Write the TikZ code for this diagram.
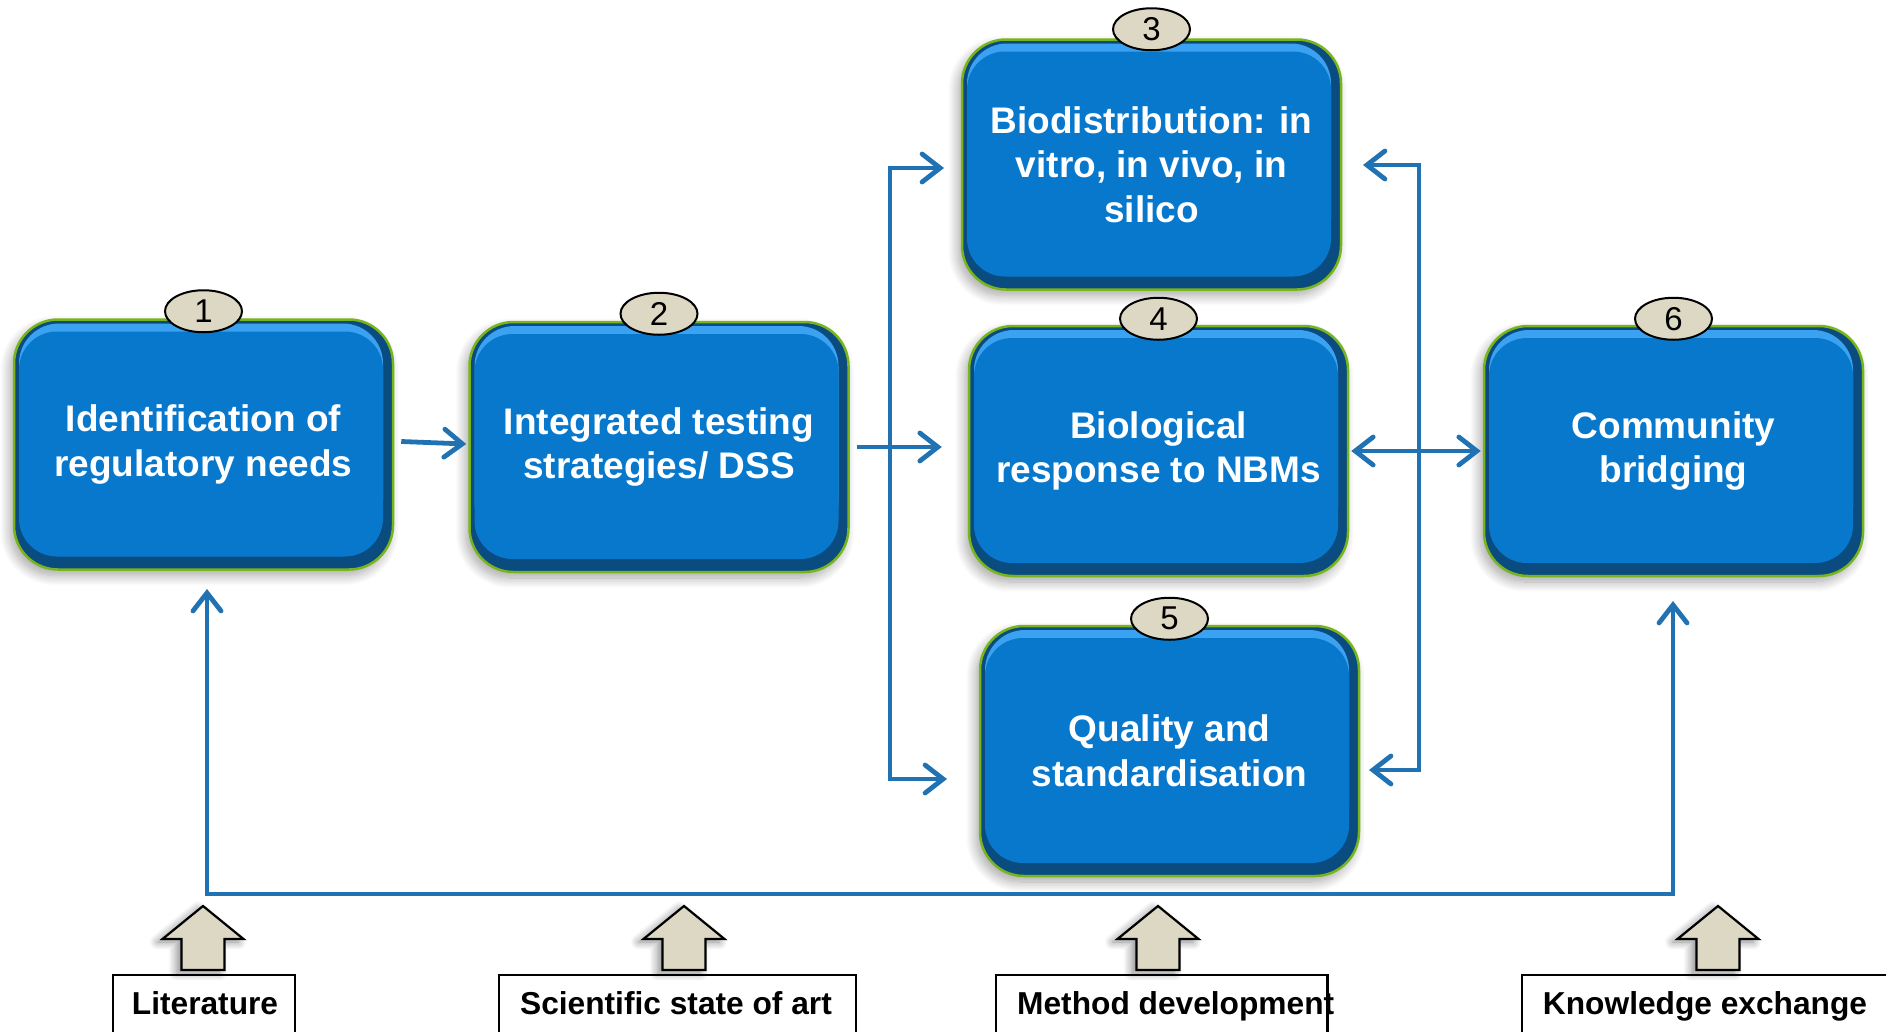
\documentclass[tikz,border=0pt]{standalone}
\usepackage{fontspec}
\setmainfont{Liberation Sans}
\usetikzlibrary{arrows.meta,shapes.geometric,shadows.blur}
\definecolor{bmain}{HTML}{0778CC}
\definecolor{bdark}{HTML}{0A4B80}
\definecolor{bhigh}{HTML}{3AA2F0}
\definecolor{bgreen}{HTML}{78B41C}
\definecolor{connc}{HTML}{2172B2}
\definecolor{beige}{HTML}{DDD8C3}
\tikzset{
  bxout/.style={rectangle, rounded corners=44pt, minimum width=379pt, minimum height=250pt,
    inner sep=0pt, fill=bdark, draw=bgreen, line width=2.5pt,
    blur shadow={shadow blur steps=12, shadow xshift=-4pt, shadow yshift=-6pt, shadow blur radius=10pt, shadow opacity=35}},
  bxhi/.style={rectangle, rounded corners=40pt, minimum width=364pt, minimum height=216pt, inner sep=0pt, fill=bhigh},
  bxmain/.style={rectangle, rounded corners=38pt, minimum width=364pt, minimum height=225pt, inner sep=0pt, fill=bmain},
  bxtext/.style={text=white, align=center, font=\fontsize{37pt}{44.5pt}\selectfont\bfseries},
  badge/.style={ellipse, minimum width=77pt, minimum height=42pt, inner sep=0pt, fill=beige, draw=black,
    line width=2pt, font=\fontsize{33pt}{33pt}\selectfont},
  conn/.style={draw=connc, line width=4.8pt, line join=miter},
  tip/.style={-{Straight Barb[length=18pt,width=28pt,line cap=round]}},
  bothtip/.style={{Straight Barb[length=18pt,width=28pt,line cap=round]}-{Straight Barb[length=18pt,width=28pt,line cap=round]}},
  blockarr/.style={fill=beige, draw=black, line width=2.2pt, line join=miter,
    blur shadow={shadow blur steps=10, shadow xshift=-5pt, shadow yshift=-3pt, shadow blur radius=8pt, shadow opacity=45}},
  lbox/.style={rectangle, draw=black, line width=1.8pt, minimum height=90pt, inner sep=0pt},
  ltext/.style={font=\fontsize{31.7pt}{36pt}\selectfont\bfseries, inner sep=0pt}
}
\newcommand\bluebox[4]{%
  \node[bxout] (#1) at (#2,#3) {};
  \node[bxhi] at ([xshift=-2.5pt,yshift=13pt]#1.center) {};
  \node[bxmain] at ([xshift=-2.5pt,yshift=0.5pt]#1.center) {};
  \node[bxtext] (#1t) at (#1.center) {#4};
}
\newcommand\blockup[1]{%
  \filldraw[blockarr] (#1,906) -- (#1+40.5,939) -- (#1+21.5,939) -- (#1+21.5,970)
    -- (#1-21.5,970) -- (#1-21.5,939) -- (#1-40.5,939) -- cycle;
}
\begin{document}
\begin{tikzpicture}[x=1pt,y=-1pt]
\useasboundingbox (0,0) rectangle (1886,1031);
\clip (0,0) rectangle (1886,1031);

% blue boxes
\bluebox{b1}{203.5}{444.5}{Identification of\\regulatory needs}
\bluebox{b2}{659}{447}{Integrated testing\\strategies/ DSS}
\bluebox{b3}{1151.5}{164.5}{Biodistribution: in\\vitro, in vivo, in\\silico}
\bluebox{b4}{1158.5}{451}{Biological\\response to NBMs}
\bluebox{b5}{1169.5}{751}{Quality and\\standardisation}
\bluebox{b6}{1673.5}{451}{Community\\bridging}

% badges
\node[badge] (n1) at ([yshift=7pt]b1.north) {1};
\node[badge] (n2) at ([yshift=7pt]b2.north) {2};
\node[badge] (n3) at ([yshift=9pt]b3.north) {3};
\node[badge] (n4) at ([yshift=6pt]b4.north) {4};
\node[badge] (n5) at ([yshift=6pt]b5.north) {5};
\node[badge] (n6) at ([yshift=6pt]b6.north) {6};

% connector coordinates
\coordinate (t3l) at (944,168);
\coordinate (t5l) at (947,779);
\coordinate (t3r) at (1363,165);
\coordinate (t5r) at (1369,770);
\coordinate (lbx) at (890,0);
\coordinate (rbx) at (1419,0);
\coordinate (t1b) at (207,589);
\coordinate (t6b) at (1673,601);
\coordinate (base) at (0,894);

% connectors
\draw[conn,tip] ([xshift=7pt,yshift=3pt]b1.east) -- ([xshift=-2pt,yshift=3pt]b2.west);
\draw[conn,tip] ([xshift=7pt]b2.east) -- ([xshift=-26pt]b2.east -| b4.west);
\draw[conn,bothtip] (t3l) -- (t3l -| lbx) -- (t5l -| lbx) -- (t5l);
\draw[conn,bothtip] (t3r) -- (t3r -| rbx) -- (t5r -| rbx) -- (t5r);
\draw[conn,bothtip] ([xshift=2pt]b4.east) -- ([xshift=-2pt]b6.west);
\draw[conn,bothtip] (t1b) -- (t1b |- base) -- (t6b |- base) -- (t6b);

% block arrows
\blockup{203}
\blockup{684}
\blockup{1158}
\blockup{1718}

% bottom boxes
\node[lbox, minimum width=182pt] (lit) at (204,1020) {};
\node[lbox, minimum width=357pt] (sci) at (677.5,1020) {};
\node[lbox, minimum width=331pt] (met) at (1161.5,1020) {};
\node[lbox, minimum width=368pt] (kno) at (1706,1020) {};
\node[ltext, anchor=base] (litt) at (205,1014) {Literature};
\node[ltext, anchor=base] (scit) at (676,1014) {Scientific state of art};
\node[ltext, anchor=base west] (mett) at (1017,1014) {Method development};
\node[ltext, anchor=base] (knot) at (1705,1014) {Knowledge exchange};
\draw[black, line width=1.8pt] (met.north east) -- (met.south east);
\end{tikzpicture}
\end{document}
